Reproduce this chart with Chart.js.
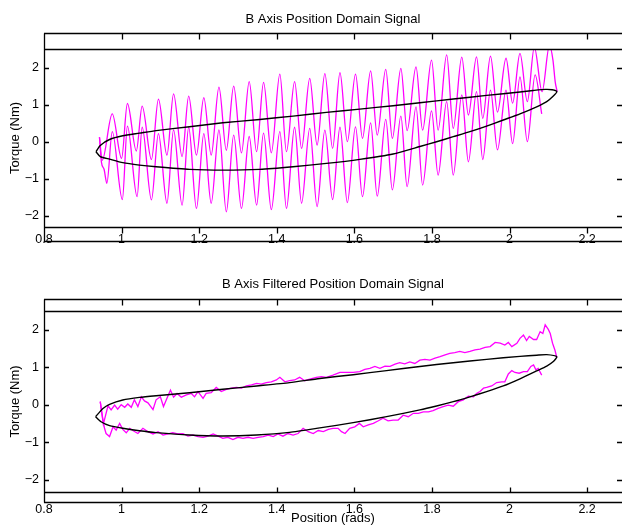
<!DOCTYPE html>
<html>
<head>
<meta charset="utf-8">
<script src="https://cdn.jsdelivr.net/npm/chart.js@4.4.1/dist/chart.umd.min.js"></script>
<style>
  html, body { margin: 0; padding: 0; background: #fff; overflow: hidden; }
  canvas { display: block; }
</style>
</head>
<body>
<canvas id="rawChart" width="622" height="262"></canvas>
<canvas id="filtChart" width="622" height="263"></canvas>
<script>
// tick labels
const xTicks = [0.8, 1, 1.2, 1.4, 1.6, 1.8, 2, 2.2];
const yTicks = [-2, -1, 0, 1, 2];

// raw signal, upper branch (position, torque)
const rawUpper = [
  [0.943, 0.12], [0.950, -0.50], [0.976, 0.75], [1.000, -0.45], [1.015, 1.03], [1.038, -0.25],
  [1.053, 0.96], [1.077, -0.48], [1.095, 1.15], [1.117, -0.36], [1.134, 1.29], [1.156, -0.40],
  [1.173, 1.23], [1.193, -0.36], [1.212, 1.19], [1.231, -0.36], [1.251, 1.47], [1.270, -0.23],
  [1.289, 1.50], [1.309, -0.30], [1.329, 1.62], [1.348, -0.27], [1.366, 1.60], [1.386, -0.30],
  [1.408, 1.82], [1.425, -0.27], [1.446, 1.62], [1.464, -0.18], [1.485, 1.71], [1.504, -0.09],
  [1.524, 1.835], [1.544, -0.18], [1.563, 1.86], [1.582, 0.0], [1.603, 1.82], [1.621, 0.09],
  [1.642, 1.91], [1.659, 0.18], [1.681, 1.95], [1.698, 0.09], [1.720, 1.98], [1.736, 0.30],
  [1.759, 2.02], [1.776, 0.31], [1.799, 2.20], [1.816, 0.31], [1.838, 2.34], [1.855, 0.36],
  [1.877, 2.28], [1.894, 0.72], [1.915, 2.29], [1.931, 0.63], [1.951, 2.31], [1.969, 0.80],
  [1.991, 2.25], [2.008, 1.04], [2.027, 2.38], [2.046, 1.08], [2.064, 2.55], [2.084, 1.35],
  [2.103, 2.60], [2.112, 2.20], [2.118, 1.60], [2.123, 1.35]
];
// raw signal, lower branch
const rawLower = [
  [0.943, 0.12], [0.948, -0.55], [0.955, -0.75], [0.962, -1.12], [0.976, 0.27], [1.002, -1.56],
  [1.015, 0.42], [1.040, -1.48], [1.053, 0.39], [1.077, -1.57], [1.095, 0.22], [1.117, -1.66],
  [1.134, 0.32], [1.156, -1.71], [1.173, 0.39], [1.193, -1.80], [1.212, 0.22], [1.231, -1.66],
  [1.251, 0.32], [1.270, -1.89], [1.289, 0.18], [1.309, -1.80], [1.329, 0.14], [1.348, -1.71],
  [1.366, 0.23], [1.386, -1.83], [1.408, 0.27], [1.425, -1.80], [1.446, 0.39], [1.464, -1.66],
  [1.485, 0.36], [1.504, -1.75], [1.524, 0.31], [1.544, -1.56], [1.563, 0.39], [1.582, -1.64],
  [1.603, 0.40], [1.621, -1.48], [1.642, 0.51], [1.659, -1.47], [1.681, 0.60], [1.698, -1.30],
  [1.720, 0.69], [1.736, -1.21], [1.759, 0.94], [1.776, -1.17], [1.799, 0.83], [1.816, -0.90],
  [1.838, 1.08], [1.855, -0.90], [1.877, 1.26], [1.894, -0.54], [1.915, 1.35], [1.931, -0.48],
  [1.951, 1.39], [1.969, -0.22], [1.991, 1.39], [2.008, -0.05], [2.027, 1.75], [2.046, 0.0],
  [2.066, 1.80], [2.083, 0.75]
];
// model loop, top plot
const loopTop = [
  [0.934, -0.27], [0.945, -0.10], [0.969, 0.06], [1.003, 0.16], [1.046, 0.23], [1.089, 0.30],
  [1.175, 0.405], [1.261, 0.51], [1.356, 0.60], [1.442, 0.69], [1.528, 0.79], [1.614, 0.88],
  [1.700, 0.97], [1.769, 1.05], [1.855, 1.15], [1.941, 1.25], [2.027, 1.34], [2.061, 1.38],
  [2.092, 1.41], [2.110, 1.40], [2.122, 1.35], [2.113, 1.23], [2.096, 1.08], [2.070, 0.94],
  [2.027, 0.75], [1.984, 0.585], [1.941, 0.42], [1.898, 0.27], [1.855, 0.135], [1.812, 0.0],
  [1.769, -0.13], [1.700, -0.33], [1.614, -0.475], [1.528, -0.585], [1.442, -0.675], [1.356, -0.745],
  [1.261, -0.765], [1.175, -0.745], [1.089, -0.675], [1.046, -0.63], [1.003, -0.565], [0.969, -0.47],
  [0.945, -0.40], [0.934, -0.27]
];

// filtered signal, upper branch
const filtUpper = [
  [0.945, 0.08], [0.953, -0.52], [0.965, -0.03], [0.973, -0.14], [0.982, -0.01], [0.990, -0.12],
  [0.999, 0.0], [1.008, -0.07], [1.016, 0.02], [1.025, -0.07], [1.033, 0.13], [1.042, -0.05],
  [1.051, 0.21], [1.059, 0.10], [1.068, 0.05], [1.081, -0.13], [1.089, 0.13], [1.100, 0.21],
  [1.108, -0.05], [1.117, 0.17], [1.126, 0.39], [1.134, 0.20], [1.143, 0.30], [1.154, 0.20],
  [1.167, 0.26], [1.180, 0.30], [1.188, 0.21], [1.197, 0.35], [1.210, 0.17], [1.218, 0.30],
  [1.231, 0.32], [1.244, 0.46], [1.257, 0.35], [1.270, 0.41], [1.283, 0.44], [1.296, 0.46],
  [1.309, 0.44], [1.322, 0.50], [1.335, 0.53], [1.348, 0.57], [1.360, 0.55], [1.373, 0.59],
  [1.386, 0.61], [1.399, 0.66], [1.408, 0.73], [1.421, 0.61], [1.433, 0.64], [1.446, 0.66],
  [1.459, 0.73], [1.472, 0.64], [1.485, 0.68], [1.502, 0.73], [1.515, 0.75], [1.528, 0.73],
  [1.545, 0.79], [1.563, 0.86], [1.580, 0.86], [1.597, 0.86], [1.614, 0.88], [1.627, 0.94],
  [1.640, 0.97], [1.653, 1.02], [1.666, 0.97], [1.679, 1.03], [1.692, 1.02], [1.705, 1.08],
  [1.717, 1.12], [1.730, 1.09], [1.743, 1.14], [1.756, 1.10], [1.769, 1.19], [1.782, 1.21],
  [1.795, 1.19], [1.808, 1.24], [1.821, 1.28], [1.834, 1.33], [1.846, 1.37], [1.859, 1.39],
  [1.872, 1.42], [1.885, 1.39], [1.898, 1.42], [1.911, 1.46], [1.924, 1.48], [1.937, 1.53],
  [1.950, 1.55], [1.963, 1.66], [1.976, 1.64], [1.988, 1.59], [1.997, 1.66], [2.006, 1.55],
  [2.019, 1.64], [2.027, 1.77], [2.036, 1.86], [2.044, 1.71], [2.051, 1.82], [2.062, 1.74],
  [2.070, 1.74], [2.079, 1.95], [2.086, 1.90], [2.092, 2.13], [2.100, 2.01], [2.105, 1.90],
  [2.111, 1.64], [2.117, 1.46], [2.122, 1.26]
];
// filtered signal, lower branch
const filtLower = [
  [0.945, 0.08], [0.948, -0.14], [0.952, -0.41], [0.956, -0.63], [0.960, -0.77], [0.969, -0.85],
  [0.978, -0.59], [0.986, -0.68], [0.995, -0.50], [1.003, -0.66], [1.012, -0.75], [1.021, -0.63],
  [1.029, -0.69], [1.042, -0.77], [1.055, -0.63], [1.068, -0.72], [1.081, -0.78], [1.094, -0.72],
  [1.107, -0.81], [1.120, -0.78], [1.132, -0.75], [1.145, -0.78], [1.158, -0.77], [1.171, -0.84],
  [1.184, -0.81], [1.197, -0.85], [1.210, -0.87], [1.223, -0.84], [1.236, -0.78], [1.249, -0.84],
  [1.261, -0.90], [1.274, -0.87], [1.287, -0.93], [1.300, -0.87], [1.313, -0.90], [1.326, -0.87],
  [1.339, -0.90], [1.352, -0.87], [1.365, -0.85], [1.378, -0.81], [1.391, -0.85], [1.403, -0.78],
  [1.416, -0.84], [1.429, -0.77], [1.442, -0.81], [1.455, -0.77], [1.468, -0.63], [1.481, -0.72],
  [1.494, -0.77], [1.507, -0.69], [1.520, -0.72], [1.533, -0.66], [1.545, -0.63], [1.558, -0.63],
  [1.567, -0.72], [1.576, -0.77], [1.588, -0.63], [1.601, -0.59], [1.613, -0.50], [1.623, -0.59],
  [1.636, -0.54], [1.649, -0.50], [1.662, -0.43], [1.674, -0.36], [1.687, -0.43], [1.700, -0.41],
  [1.713, -0.41], [1.726, -0.28], [1.739, -0.32], [1.752, -0.23], [1.765, -0.23], [1.778, -0.19],
  [1.791, -0.19], [1.803, -0.16], [1.816, -0.10], [1.829, -0.05], [1.842, -0.01], [1.855, -0.04],
  [1.868, 0.08], [1.881, 0.13], [1.894, 0.23], [1.907, 0.21], [1.915, 0.30], [1.924, 0.35],
  [1.933, 0.44], [1.941, 0.46], [1.954, 0.50], [1.967, 0.59], [1.980, 0.61], [1.988, 0.61],
  [1.997, 0.82], [2.006, 0.91], [2.014, 0.86], [2.025, 0.84], [2.036, 0.88], [2.046, 0.88],
  [2.055, 1.02], [2.062, 1.06], [2.068, 0.93], [2.074, 0.97], [2.083, 0.79]
];
// model loop, bottom plot
const loopBottom = [
  [0.933, -0.32], [0.952, -0.10], [0.969, 0.01], [1.003, 0.125], [1.046, 0.195], [1.089, 0.24],
  [1.175, 0.32], [1.261, 0.41], [1.348, 0.50], [1.433, 0.59], [1.511, 0.70], [1.597, 0.80],
  [1.683, 0.91], [1.769, 1.02], [1.855, 1.12], [1.941, 1.21], [2.027, 1.29], [2.070, 1.32],
  [2.096, 1.335], [2.122, 1.28], [2.113, 1.15], [2.096, 1.03], [2.070, 0.90], [2.027, 0.69],
  [1.984, 0.50], [1.941, 0.35], [1.898, 0.21], [1.855, 0.08], [1.812, -0.035], [1.769, -0.14],
  [1.683, -0.32], [1.597, -0.48], [1.511, -0.62], [1.433, -0.74], [1.348, -0.81], [1.261, -0.835],
  [1.175, -0.81], [1.089, -0.745], [1.046, -0.695], [1.003, -0.63], [0.969, -0.56], [0.947, -0.455],
  [0.933, -0.32]
];

Chart.defaults.font.family = "'Liberation Sans', Arial, Helvetica, sans-serif";
Chart.defaults.color = "#000";

const toPoints = (arr) => arr.map((p) => ({ x: p[0], y: p[1] }));
const fmt = (v) => (v < 0 ? "\u2212" + Math.abs(v) : String(v));

// MATLAB style box: extra lines above/below the plot area and inward ticks
const frame = {
  id: "frame",
  afterDraw(chart, args, opts) {
    const { ctx, chartArea: a } = chart;
    const sx = chart.scales.x;
    const sy = chart.scales.y;
    const top = a.top - opts.above;
    const bottom = a.bottom + opts.below;
    const r = (v) => Math.round(v) + 0.5;
    ctx.save();
    ctx.strokeStyle = "#000";
    ctx.lineWidth = 1.3;
    ctx.beginPath();
    [top, a.top, a.bottom, bottom].forEach((v) => {
      ctx.moveTo(a.left, r(v));
      ctx.lineTo(a.right, r(v));
    });
    ctx.moveTo(r(a.left), r(top));
    ctx.lineTo(r(a.left), r(bottom));
    xTicks.slice(1).forEach((v) => {
      const px = r(sx.getPixelForValue(v));
      ctx.moveTo(px, r(top));
      ctx.lineTo(px, r(top) + 6);
      ctx.moveTo(px, r(a.bottom));
      ctx.lineTo(px, r(a.bottom) + opts.tick);
    });
    yTicks.forEach((v) => {
      const py = r(sy.getPixelForValue(v));
      ctx.moveTo(a.left, py);
      ctx.lineTo(a.left + 5, py);
      ctx.moveTo(a.right - 5, py);
      ctx.lineTo(a.right, py);
    });
    ctx.stroke();
    ctx.restore();
  },
};

function makeChart(id, title, loop, upper, lower, smooth, o) {
  const magenta = {
    borderColor: "#ff00ff",
    borderWidth: 1.3,
    pointRadius: 0,
    tension: smooth ? 0.4 : 0,
    cubicInterpolationMode: smooth ? "monotone" : "default",
  };
  return new Chart(document.getElementById(id), {
    type: "line",
    data: {
      datasets: [
        { data: toPoints(loop), borderColor: "#000", borderWidth: 1.4, pointRadius: 0, tension: 0.2 },
        Object.assign({ data: toPoints(upper) }, magenta),
        Object.assign({ data: toPoints(lower) }, magenta),
      ],
    },
    options: {
      responsive: false,
      animation: false,
      devicePixelRatio: 1,
      layout: { padding: 0 },
      plugins: {
        legend: { display: false },
        tooltip: { enabled: false },
        title: {
          display: true,
          fullSize: false,
          text: title,
          color: "#000",
          font: { size: 13, weight: "normal" },
          padding: { top: o.titleTop, bottom: o.titleBottom },
        },
        frame: { above: o.above, below: o.below, tick: o.tick },
      },
      scales: {
        x: {
          type: "linear",
          min: 0.8,
          max: 2.29,
          afterBuildTicks: (s) => { s.ticks = xTicks.map((v) => ({ value: v })); },
          afterFit: (s) => { s.height = o.xHeight; },
          grid: { display: false, drawTicks: false },
          border: { display: false },
          ticks: { padding: o.xPad, maxRotation: 0, autoSkip: false, font: { size: 12.5 }, callback: fmt },
          title: {
            display: o.xTitle,
            text: "Position (rads)",
            font: { size: 13, lineHeight: 1 },
            padding: 0,
          },
        },
        y: {
          min: o.yMin,
          max: 2.5,
          afterBuildTicks: (s) => { s.ticks = yTicks.map((v) => ({ value: v })); },
          afterFit: (s) => { s.width = 44; },
          grid: { display: false, drawTicks: false },
          border: { display: false },
          ticks: { padding: 5, font: { size: 12.5 }, callback: fmt },
          title: {
            display: true,
            text: "Torque (Nm)",
            font: { size: 13, lineHeight: 1 },
            padding: { top: 8.5 },
          },
        },
      },
    },
    plugins: [frame],
  });
}

makeChart("rawChart", "B Axis Position Domain Signal", loopTop, rawUpper, rawLower, true, {
  titleTop: 11.2, titleBottom: 22.2, above: 16, below: 14, tick: 6,
  xHeight: 35, xPad: 5, xTitle: false, yMin: -2.3,
});
makeChart("filtChart", "B Axis Filtered Position Domain Signal", loopBottom, filtUpper, filtLower, false, {
  titleTop: 14.2, titleBottom: 19.2, above: 12, below: 10, tick: -5,
  xHeight: 33, xPad: 10, xTitle: true, yMin: -2.33,
});
</script>
</body>
</html>
